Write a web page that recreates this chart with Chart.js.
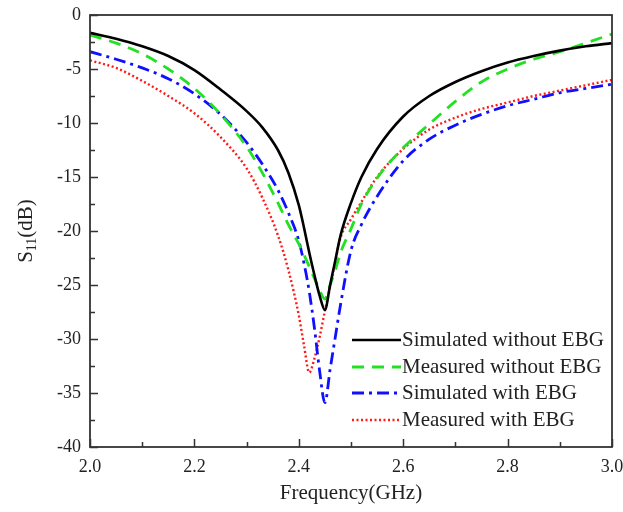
<!DOCTYPE html>
<html lang="en">
<head>
    <meta charset="UTF-8">
    <script src="https://cdn.jsdelivr.net/npm/chart.js"></script>
    <title>S11 vs Frequency</title>
    <style>
        html, body { margin: 0; padding: 0; background: #fff; }
        #wrap { width: 623px; height: 512px; }
    </style>
</head>
<body>
<div id="wrap"><canvas id="s11Chart" width="623" height="512"></canvas></div>
<script>
    // frequency points (GHz)
    const freq = [2.0, 2.05, 2.1, 2.15, 2.2, 2.25, 2.3, 2.33, 2.36, 2.38, 2.4, 2.41, 2.42, 2.43, 2.44, 2.45,
        2.46, 2.47, 2.48, 2.5, 2.52, 2.55, 2.6, 2.65, 2.7, 2.75, 2.8, 2.85, 2.9, 2.95, 3.0];

    // S11 in dB for each curve
    const simNoEbg = [-1.65, -2.2, -2.9, -3.8, -5.1, -6.9, -8.9, -10.4, -12.5, -14.6, -17.6, -19.7, -22.0, -24.1, -26.0, -27.3,
        -25.0, -22.7, -20.4, -17.4, -15.0, -12.4, -9.4, -7.5, -6.2, -5.2, -4.4, -3.8, -3.3, -2.9, -2.6];
    const measNoEbg = [-1.85, -2.6, -3.6, -5.0, -6.8, -9.2, -12.2, -14.6, -17.4, -19.4, -21.2, -22.2, -23.3, -24.4, -25.5, -26.3,
        -25.0, -23.6, -22.0, -19.8, -17.5, -15.1, -12.3, -10.1, -8.0, -6.2, -5.0, -4.1, -3.4, -2.6, -1.76];
    const simEbg = [-3.4, -4.1, -4.9, -5.9, -7.3, -9.2, -11.8, -13.8, -16.2, -18.3, -20.9, -23.0, -25.6, -29.0, -33.0, -35.9,
        -32.8, -29.8, -26.8, -21.8, -19.4, -16.8, -13.5, -11.5, -10.2, -9.2, -8.4, -7.8, -7.2, -6.8, -6.4];
    const measEbg = [-4.2, -4.9, -6.1, -7.5, -9.1, -11.3, -14.2, -16.9, -20.4, -23.6, -27.8, -30.6, -33.1, -31.8, -29.8, -27.4,
        -25.2, -22.8, -20.6, -18.9, -17.3, -15.0, -12.4, -10.6, -9.5, -8.7, -8.1, -7.5, -7.0, -6.5, -6.0];

    const seriesNames = ['Simulated without EBG', 'Measured without EBG', 'Simulated with EBG', 'Measured with EBG'];
    const xTicks = [2.0, 2.2, 2.4, 2.6, 2.8, 3.0];
    const yTicks = [0, -5, -10, -15, -20, -25, -30, -35, -40];

    const serif = 'Liberation Serif, Times New Roman, serif';

    function toPoints(arr) {
        return freq.map((f, i) => ({ x: f, y: arr[i] }));
    }

    function series(label, arr, color, width, dash) {
        return {
            label: label,
            data: toPoints(arr),
            borderColor: color,
            backgroundColor: color,
            borderWidth: width,
            borderDash: dash,
            pointRadius: 0,
            fill: false,
            cubicInterpolationMode: 'monotone'
        };
    }

    // frame, inward ticks, axis titles and legend
    const decorations = {
        id: 'decorations',
        afterDraw(chart) {
            const ctx = chart.ctx;
            const a = chart.chartArea;
            const xs = chart.scales.x;
            const ys = chart.scales.y;
            ctx.save();

            ctx.strokeStyle = '#333';
            ctx.lineWidth = 1.8;
            ctx.strokeRect(a.left, a.top, a.right - a.left, a.bottom - a.top);

            ctx.lineWidth = 1.5;
            ctx.beginPath();
            for (let v = 2.0; v <= 3.0001; v += 0.1) {
                const px = Math.round(xs.getPixelForValue(v)) + 0.5;
                const major = Math.round(v * 10) % 2 === 0;
                ctx.moveTo(px, a.bottom);
                ctx.lineTo(px, a.bottom - (major ? 8 : 5));
            }
            for (let v = -40; v <= 0.001; v += 2.5) {
                const py = Math.round(ys.getPixelForValue(v)) + 0.5;
                const major = v % 5 === 0;
                ctx.moveTo(a.left, py);
                ctx.lineTo(a.left + (major ? 8 : 5), py);
            }
            ctx.stroke();

            // x title
            ctx.fillStyle = '#222';
            ctx.font = '21px ' + serif;
            ctx.textAlign = 'center';
            ctx.textBaseline = 'middle';
            ctx.fillText('Frequency(GHz)', (a.left + a.right) / 2, 493);

            // y title with subscript
            ctx.translate(25, (a.top + a.bottom) / 2);
            ctx.rotate(-Math.PI / 2);
            ctx.textAlign = 'left';
            ctx.textBaseline = 'alphabetic';
            const big = '21px ' + serif;
            const small = '14px ' + serif;
            ctx.font = big;
            const wS = ctx.measureText('S').width;
            const wRest = ctx.measureText('(dB)').width;
            ctx.font = small;
            const wSub = ctx.measureText('11').width;
            let x0 = -(wS + wSub + wRest) / 2;
            const base = 7;
            ctx.font = big;
            ctx.fillText('S', x0, base);
            ctx.font = small;
            ctx.fillText('11', x0 + wS, base + 4);
            ctx.font = big;
            ctx.fillText('(dB)', x0 + wS + wSub, base);
            ctx.restore();

            // legend
            ctx.save();
            const rows = [340, 367, 393, 420];
            chart.data.datasets.forEach((ds, i) => {
                const y = rows[i];
                ctx.strokeStyle = ds.borderColor;
                ctx.lineWidth = ds.borderWidth;
                ctx.setLineDash(ds.borderDash || []);
                ctx.beginPath();
                ctx.moveTo(352, y);
                ctx.lineTo(401, y);
                ctx.stroke();
                ctx.setLineDash([]);
                ctx.fillStyle = '#222';
                ctx.font = '21px ' + serif;
                ctx.textAlign = 'left';
                ctx.textBaseline = 'middle';
                ctx.fillText(ds.label, 402, y);
            });
            ctx.restore();
        }
    };

    const ctxS11 = document.getElementById('s11Chart').getContext('2d');
    new Chart(ctxS11, {
        type: 'line',
        data: {
            datasets: [
                series(seriesNames[0], simNoEbg, '#000000', 2.6, []),
                series(seriesNames[1], measNoEbg, '#22e022', 2.8, [12, 8]),
                series(seriesNames[2], simEbg, '#1010ff', 2.8, [12, 5, 3, 5]),
                series(seriesNames[3], measEbg, '#ff1a1a', 2.4, [2, 2.5])
            ]
        },
        options: {
            responsive: false,
            devicePixelRatio: 1,
            animation: false,
            layout: { padding: { top: 15, right: 11, left: 0, bottom: 0 } },
            plugins: {
                legend: { display: false },
                tooltip: { enabled: false }
            },
            scales: {
                x: {
                    type: 'linear',
                    min: 2,
                    max: 3,
                    afterBuildTicks: s => { s.ticks = xTicks.map(v => ({ value: v })); },
                    afterFit: s => {
                        s.height = 65;
                        s.paddingLeft = 0; s.paddingRight = 0;
                    },
                    ticks: {
                        font: { family: serif, size: 18 },
                        color: '#222',
                        padding: 9,
                        maxRotation: 0,
                        callback: v => Number(v).toFixed(1)
                    },
                    grid: { display: false, drawTicks: false },
                    border: { display: false }
                },
                y: {
                    type: 'linear',
                    min: -40,
                    max: 0,
                    afterBuildTicks: s => { s.ticks = yTicks.map(v => ({ value: v })); },
                    afterFit: s => {
                        s.width = 90;
                        s.paddingTop = 0; s.paddingBottom = 0;
                    },
                    ticks: {
                        font: { family: serif, size: 18 },
                        color: '#222',
                        padding: 9,
                        callback: v => String(v)
                    },
                    grid: { display: false, drawTicks: false },
                    border: { display: false }
                }
            }
        },
        plugins: [decorations]
    });
</script>
</body>
</html>
